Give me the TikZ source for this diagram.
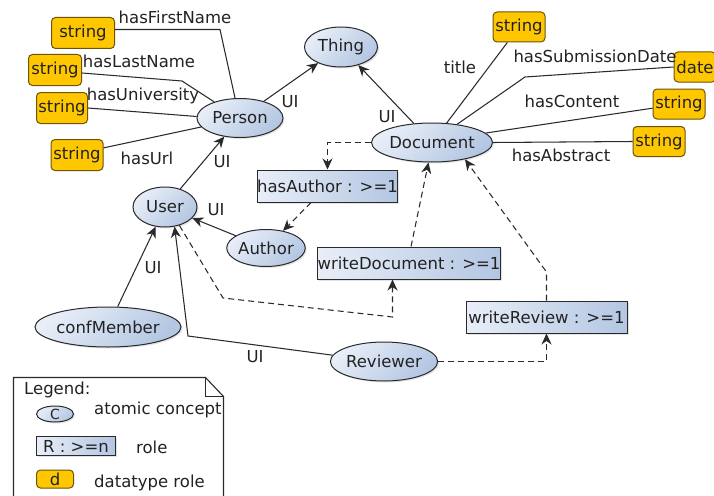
\documentclass[tikz,border=0pt]{standalone}
\usepackage{fontspec}
\setmainfont{DejaVu Sans}
\usetikzlibrary{arrows.meta,shadows,shapes.geometric}

\definecolor{ink}{HTML}{222222}
\definecolor{edge}{HTML}{2A2A2A}
\definecolor{conceptlight}{HTML}{E8EEF8}
\definecolor{conceptdark}{HTML}{B3C6E2}
\definecolor{dtfill}{HTML}{FFC700}
\definecolor{dtborder}{HTML}{6E5308}

\tikzset{
  every node/.style={font=\fontsize{16.5}{20}\selectfont, text=ink},
  softshadow/.style={drop shadow={opacity=.22, shadow xshift=1.5pt, shadow yshift=-1.5pt}},
  concept/.style={ellipse, draw=edge, line width=1pt, inner sep=0pt,
    top color=conceptlight, bottom color=conceptdark, shading angle=45, softshadow},
  role/.style={rectangle, draw=edge, line width=1pt, inner sep=0pt,
    minimum height=32pt, left color=conceptlight, right color=conceptdark, softshadow},
  dtype/.style={rectangle, rounded corners=4pt, draw=dtborder, line width=1pt,
    fill=dtfill, inner sep=0pt, minimum height=31pt},
  lbl/.style={inner sep=0pt},
  link/.style={draw=edge, line width=1.05pt},
  tip/.style={-{Stealth[length=11pt,width=10pt,inset=3.5pt]}},
  isa/.style={link, tip},
  rolelink/.style={link, dash pattern=on 6pt off 4pt, tip}
}

\begin{document}
\begin{tikzpicture}[x=1pt,y=-1pt]
\clip (0,0) rectangle (714,495);
\fill[white] (0,0) rectangle (714,495);

% concepts
\node[concept, minimum width=73pt, minimum height=40pt] (thing) at (341,47) {Thing};
\node[concept, minimum width=86pt, minimum height=39pt] (person) at (240,118) {Person};
\node[concept, minimum width=64pt, minimum height=40pt] (user) at (165,207) {User};
\node[concept, minimum width=61pt, minimum height=37pt] (author) at (266,248) {Author};
\node[concept, minimum width=109pt, minimum height=39pt] (doc) at (432,142.5) {Document};
\node[concept, minimum width=117pt, minimum height=40pt] (conf) at (108,327) {confMember};
\node[concept, minimum width=98pt, minimum height=39pt] (reviewer) at (384,361.5) {Reviewer};

% roles
\node[role, minimum width=139pt] (hasauth) at (327.5,186) {hasAuthor : >=1};
\node[role, minimum width=180pt] (wdoc) at (409,263) {writeDocument : >=1};
\node[role, minimum width=161pt] (wrev) at (546.5,317) {writeReview : >=1};

% datatypes
\node[dtype, minimum width=63pt] (s1) at (83,33) {string};
\node[dtype, minimum width=53pt] (s2) at (55,70) {string};
\node[dtype, minimum width=51pt] (s3) at (62,108) {string};
\node[dtype, minimum width=52pt] (s4) at (77,155) {string};
\node[dtype, minimum width=52pt, minimum height=30pt] (s5) at (519,27) {string};
\node[dtype, minimum width=42pt, minimum height=30pt] (dd) at (695,67) {date};
\node[dtype, minimum width=52pt, minimum height=30pt] (s6) at (679,104) {string};
\node[dtype, minimum width=52pt, minimum height=30pt] (s7) at (659,141.5) {string};

% bend points
\coordinate (b1) at (220,29.5);
\coordinate (b2) at (182,81);
\coordinate (b3) at (525,77);
\coordinate (b4) at (188,336);
\coordinate (b5) at (223,298);
\coordinate (b6) at (392.5,317);
\coordinate (b7) at (546.5,272);

% datatype properties of Person
\draw[link] (s1.east |- b1) -- (b1) -- (person.104);
\draw[link] (s2.east |- 0,73) -- (b2) -- (person.148);
\draw[link] (s3.east) -- (person.178);
\draw[link] (s4.15) -- (person.193);

% datatype properties of Document
\draw[link] (doc) -- (s5);
\draw[link] (doc.36) -- (b3) -- (dd.west);
\draw[link] (doc.10) -- (s6.189);
\draw[link] (doc.east) -- (s7.west);

% subsumption
\draw[isa] (person) -- (thing);
\draw[isa] (doc) -- (thing);
\draw[isa] (user) -- (person);
\draw[isa] (author) -- (user);
\draw[isa] (conf) -- (user);
\draw[isa] (reviewer.173) -- (b4) -- (user.-64);

% roles
\draw[rolelink] (doc.west) -| (hasauth.north);
\draw[rolelink] (hasauth) -- (author);
\draw[rolelink] (wdoc.83) -- (doc.-100);
\draw[rolelink] (user.-52) -- (b5) -- (b6) -- (b6 |- wdoc.south);
\draw[rolelink] (reviewer.east) -| (wrev.south);
\draw[rolelink] (wrev.north) -- (b7) -- (doc.-27);

% edge labels
\node[lbl] (lfirst) at (175,17) {hasFirstName};
\node[lbl] (llast) at (139,61) {hasLastName};
\node[lbl] (luni) at (143,96) {hasUniversity};
\node[lbl] (lurl) at (147,158) {hasUrl};
\node[lbl] (lui1) at (290,102) {UI};
\node[lbl] (lui2) at (222,162) {UI};
\node[lbl] (lui3) at (216,210) {UI};
\node[lbl] (lui4) at (153,268) {UI};
\node[lbl] (lui5) at (255,357) {UI};
\node[lbl] (lui6) at (387,117) {UI};
\node[lbl] (ltitle) at (460,67) {title};
\node[lbl] (lsub) at (595,56) {hasSubmissionDate};
\node[lbl] (lcont) at (572,101) {hasContent};
\node[lbl] (labs) at (561,155) {hasAbstract};

% legend sheet with folded corner
\draw[edge, line width=1.1pt, fill=white] (13.5,500) -- (13.5,377.5) -- (205.5,377.5) -- (223.5,396.5) -- (223.5,500);
\draw[edge, line width=1pt] (205.5,377.5) -- (205.5,396.5) -- (223.5,396.5);
\node[lbl, anchor=west] (legtitle) at (24,390) {Legend:};
\node[concept, minimum width=37pt, minimum height=16pt, font=\fontsize{14}{16}\selectfont] (legc) at (55,414) {C};
\node[lbl, anchor=west] (legct) at (94,410) {atomic concept};
\node[role, minimum width=79pt, minimum height=19pt] (legr) at (76,446) {R : >=n};
\node[lbl, anchor=west] (legrt) at (136,447) {role};
\node[dtype, minimum width=37pt, minimum height=18pt] (legd) at (55,479) {d};
\node[lbl, anchor=west] (legdt) at (94,483) {datatype role};
\end{tikzpicture}
\end{document}
